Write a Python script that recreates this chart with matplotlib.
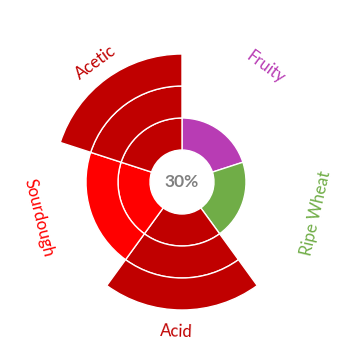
import numpy as np
import matplotlib
matplotlib.use("Agg")
import matplotlib.pyplot as plt

categories = ["Fruity", "Ripe Wheat", "Acid", "Sourdough", "Acetic"]
levels = [1, 1, 3, 2, 3]
colors = ["#B83CB4", "#70AD47", "#C00000", "#FF0000", "#C00000"]
center_text = "30%"

plt.rcParams['font.family'] = ['Lato', 'DejaVu Sans']

# label placement tweaks (degrees offset from wedge middle, radius in ring units)
label_shift = [0, -5, 2, 4, 0]
label_r = [4.45, 4.3, 4.68, 4.62, 4.6]

W = 362
fig = plt.figure(figsize=(3.62, 3.62), dpi=100)
unit_px = 32.0
rmax = 4.7
rad_px = rmax * unit_px
cx, cy = 182, 362 - 182
ax = fig.add_axes([(cx - rad_px) / W, (cy - rad_px) / W, 2 * rad_px / W, 2 * rad_px / W],
                  projection='polar')
ax.set_theta_zero_location('N')
ax.set_theta_direction(-1)
ax.set_ylim(0, rmax)
ax.axis('off')

n = len(categories)
width = 2 * np.pi / n
hole = 1.0
for i, (cat, lv, col) in enumerate(zip(categories, levels, colors)):
    theta = i * width + width / 2
    for k in range(lv):
        ax.bar(theta, 1.0, width=width, bottom=hole + k, color=col,
               edgecolor='white', linewidth=1.0, align='center')
    # label
    lt = theta + np.radians(label_shift[i])
    deg = np.degrees(lt)
    rot = -deg
    while rot <= -90:
        rot += 180
    while rot > 90:
        rot -= 180
    ax.text(lt, label_r[i], cat, rotation=rot, rotation_mode='anchor',
            ha='center', va='center', color=col, fontsize=12, clip_on=False)

ax.text(0, 0, center_text, ha='center', va='center', fontsize=12.5,
        fontweight='bold', color='#808080')

fig.savefig("out.png", dpi=100)
